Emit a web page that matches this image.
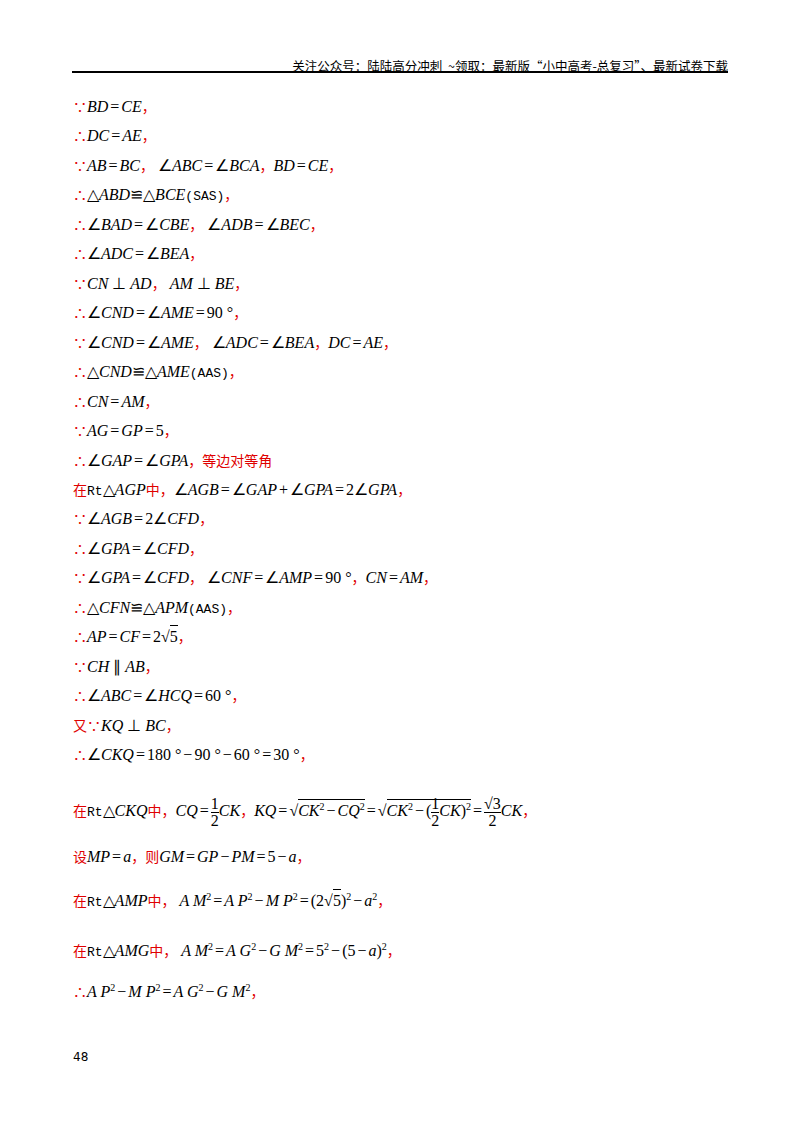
<!DOCTYPE html>
<html><head><meta charset="utf-8">
<script src="https://cdn.jsdelivr.net/npm/chart.js@4"></script>
<style>
body{margin:0;width:800px;height:1132px;background:#fff;position:relative;font-family:"Liberation Serif",serif;}
.hd{position:absolute;right:72px;top:56px;font:12.5px "Noto Sans CJK SC";color:#000}
.rule{position:absolute;left:72px;right:72px;top:71px;border-top:2px solid #000}
.ln{position:absolute;left:73px;font-size:16px;white-space:nowrap;line-height:20px}
.r{color:#e00000;font-family:"Noto Sans CJK SC";font-size:14px}
.s{font-family:"Liberation Mono";font-size:13px}
.o{font-weight:normal;padding:0 2px}
sup{font-size:10px}
.pg{position:absolute;left:73px;top:1050px;font:12px "DejaVu Sans"}
.fr{display:inline-block;vertical-align:middle;text-align:center;line-height:16px}
.fr span{display:block}
.fr span:first-child{border-bottom:1px solid #000}
.ov{border-top:1px solid #000;padding-top:2px}
</style></head><body>
<div class="hd">关注公众号：陆陆高分冲刺 &nbsp;~领取：最新版“小中高考-总复习”、最新试卷下载</div>
<div class="rule"></div>
<div id="page"></div>
<div class="pg">48</div>
<script>
const R = s => '<span class="r">' + s + '</span>';
const lineTops = [96,125,155,184,214,243,273,302,332,361,391,420,450,479,508,538,567,597,626,656,685,715,744,796,846,887,937,978];
const lineTexts = [
 R('∵')+'<i>BD</i>=<i>CE</i>'+R('，'),
 R('∴')+'<i>DC</i>=<i>AE</i>'+R('，'),
 R('∵')+'<i>AB</i>=<i>BC</i>'+R('，')+' ∠<i>ABC</i>=∠<i>BCA</i>'+R('，')+'<i>BD</i>=<i>CE</i>'+R('，'),
 R('∴')+'△<i>ABD</i>≌△<i>BCE</i><span class="s">(SAS)</span>'+R('，'),
 R('∴')+'∠<i>BAD</i>=∠<i>CBE</i>'+R('，')+' ∠<i>ADB</i>=∠<i>BEC</i>'+R('，'),
 R('∴')+'∠<i>ADC</i>=∠<i>BEA</i>'+R('，'),
 R('∵')+'<i>CN</i> ⊥ <i>AD</i>'+R('，')+' <i>AM</i> ⊥ <i>BE</i>'+R('，'),
 R('∴')+'∠<i>CND</i>=∠<i>AME</i>=90 °'+R('，'),
 R('∵')+'∠<i>CND</i>=∠<i>AME</i>'+R('，')+' ∠<i>ADC</i>=∠<i>BEA</i>'+R('，')+'<i>DC</i>=<i>AE</i>'+R('，'),
 R('∴')+'△<i>CND</i>≌△<i>AME</i><span class="s">(AAS)</span>'+R('，'),
 R('∴')+'<i>CN</i>=<i>AM</i>'+R('，'),
 R('∵')+'<i>AG</i>=<i>GP</i>=5'+R('，'),
 R('∴')+'∠<i>GAP</i>=∠<i>GPA</i>'+R('，等边对等角'),
 R('在')+'<span class="s">Rt</span>△<i>AGP</i>'+R('中，')+'∠<i>AGB</i>=∠<i>GAP</i>+∠<i>GPA</i>=2∠<i>GPA</i>'+R('，'),
 R('∵')+'∠<i>AGB</i>=2∠<i>CFD</i>'+R('，'),
 R('∴')+'∠<i>GPA</i>=∠<i>CFD</i>'+R('，'),
 R('∵')+'∠<i>GPA</i>=∠<i>CFD</i>'+R('，')+' ∠<i>CNF</i>=∠<i>AMP</i>=90 °'+R('，')+'<i>CN</i>=<i>AM</i>'+R('，'),
 R('∴')+'△<i>CFN</i>≌△<i>APM</i><span class="s">(AAS)</span>'+R('，'),
 R('∴')+'<i>AP</i>=<i>CF</i>=2√<span class="ov">5</span>'+R('，'),
 R('∵')+'<i>CH</i> ∥ <i>AB</i>'+R('，'),
 R('∴')+'∠<i>ABC</i>=∠<i>HCQ</i>=60 °'+R('，'),
 R('又∵')+'<i>KQ</i> ⊥ <i>BC</i>'+R('，'),
 R('∴')+'∠<i>CKQ</i>=180 °−90 °−60 °=30 °'+R('，'),
 R('在')+'<span class="s">Rt</span>△<i>CKQ</i>'+R('中，')+'<i>CQ</i>=<span class="fr"><span>1</span><span>2</span></span><i>CK</i>'+R('，')+'<i>KQ</i>=√<span class="ov"><i>CK</i><sup>2</sup>−<i>CQ</i><sup>2</sup></span>=√<span class="ov"><i>CK</i><sup>2</sup>−(<span class="fr"><span>1</span><span>2</span></span><i>CK</i>)<sup>2</sup></span>=<span class="fr"><span>√3</span><span>2</span></span><i>CK</i>'+R('，'),
 R('设')+'<i>MP</i>=<i>a</i>'+R('，则')+'<i>GM</i>=<i>GP</i>−<i>PM</i>=5−<i>a</i>'+R('，'),
 R('在')+'<span class="s">Rt</span>△<i>AMP</i>'+R('中，')+' <i>A M</i><sup>2</sup>=<i>A P</i><sup>2</sup>−<i>M P</i><sup>2</sup>=(2√<span class="ov">5</span>)<sup>2</sup>−<i>a</i><sup>2</sup>'+R('，'),
 R('在')+'<span class="s">Rt</span>△<i>AMG</i>'+R('中，')+' <i>A M</i><sup>2</sup>=<i>A G</i><sup>2</sup>−<i>G M</i><sup>2</sup>=5<sup>2</sup>−(5−<i>a</i>)<sup>2</sup>'+R('，'),
 R('∴')+'<i>A P</i><sup>2</sup>−<i>M P</i><sup>2</sup>=<i>A G</i><sup>2</sup>−<i>G M</i><sup>2</sup>'+R('，')
];
const page = document.getElementById('page');
lineTexts.forEach((t, i) => {
  const d = document.createElement('div');
  d.className = 'ln';
  d.style.top = lineTops[i] + 'px';
  d.innerHTML = t.replace(/([=+−])(?![^<]*>)/g, '<span class="o">$1</span>');
  page.appendChild(d);
});
</script>
</body></html>
